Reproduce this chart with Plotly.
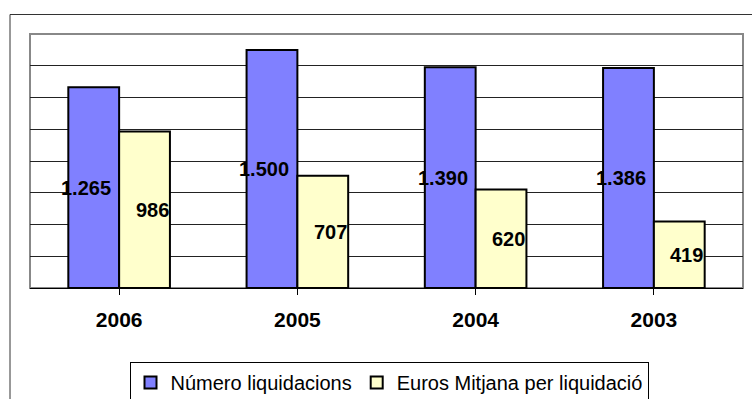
import plotly.graph_objects as go

# Chart data
years = ["2006", "2005", "2004", "2003"]
num_liquidacions = [1265, 1500, 1390, 1386]
euros_mitjana = [986, 707, 620, 419]

series_names = ["Número liquidacions", "Euros Mitjana per liquidació"]
series_colors = ["#8080FF", "#FFFFCC"]

FONT = "Liberation Sans, Arial, sans-serif"

# Plot-area geometry in pixels
W, H = 752, 399
ML, MR, MT, MB = 30, 9, 34, 111
PW, PH = W - ML - MR, H - MT - MB


def fmt(v):
    return f"{v:,}".replace(",", ".")


fig = go.Figure()
for name, vals, color in zip(series_names, [num_liquidacions, euros_mitjana], series_colors):
    fig.add_trace(go.Bar(
        x=list(range(len(years))),
        y=vals,
        name=name,
        marker=dict(color=color, line=dict(color="black", width=2)),
        hoverinfo="skip",
    ))

# Value labels at half bar height, nudged outward from the group centre
for i in range(len(years)):
    for vals, shift in ((num_liquidacions, -33), (euros_mitjana, 33)):
        fig.add_annotation(
            x=i, y=vals[i] / 2, xref="x", yref="y",
            text=fmt(vals[i]), showarrow=False, xshift=shift,
            font=dict(family=FONT, size=20, color="black", weight="bold"),
        )

# Grey frame of the plot area
fig.add_shape(type="rect", xref="paper", yref="paper", x0=0, x1=1, y0=0, y1=1,
              line=dict(color="#888888", width=2), layer="below")
# Outer chart frame (runs off the right and bottom edges)
fig.add_shape(type="rect", xref="paper", yref="paper",
              x0=(10 - ML) / PW, x1=(W + 20 - ML) / PW,
              y0=-(H + 20 - (MT + PH)) / PH, y1=1 + (MT - 14.5) / PH,
              line=dict(color="#333333", width=1), layer="below")

fig.update_layout(
    width=W, height=H,
    margin=dict(l=ML, r=MR, t=MT, b=MB, autoexpand=False),
    paper_bgcolor="white", plot_bgcolor="white",
    barmode="group", bargap=0.43, bargroupgap=0,
    showlegend=True,
    legend=dict(
        orientation="h", x=(389 - ML) / PW, xanchor="center",
        y=-(362 - (MT + PH)) / PH, yanchor="top",
        bordercolor="black", borderwidth=1, bgcolor="white",
        font=dict(family=FONT, size=20, color="black"),
        itemwidth=30, tracegroupgap=0,
    ),
    font=dict(family=FONT, color="black"),
    xaxis=dict(
        tickmode="array", tickvals=list(range(len(years))), ticktext=years,
        range=[-0.5, len(years) - 0.5],
        showline=True, linecolor="black", linewidth=1,
        ticks="outside", tickson="boundaries", ticklen=6, tickcolor="black",
        tickfont=dict(family=FONT, size=21, color="black", weight="bold"),
        ticklabelstandoff=7,
        showgrid=False, zeroline=False,
    ),
    yaxis=dict(
        range=[0, 1600], dtick=200, showticklabels=False,
        showgrid=True, gridcolor="#222222", gridwidth=1,
        zeroline=False, showline=False, ticks="",
    ),
)

fig.write_html("out.html")
